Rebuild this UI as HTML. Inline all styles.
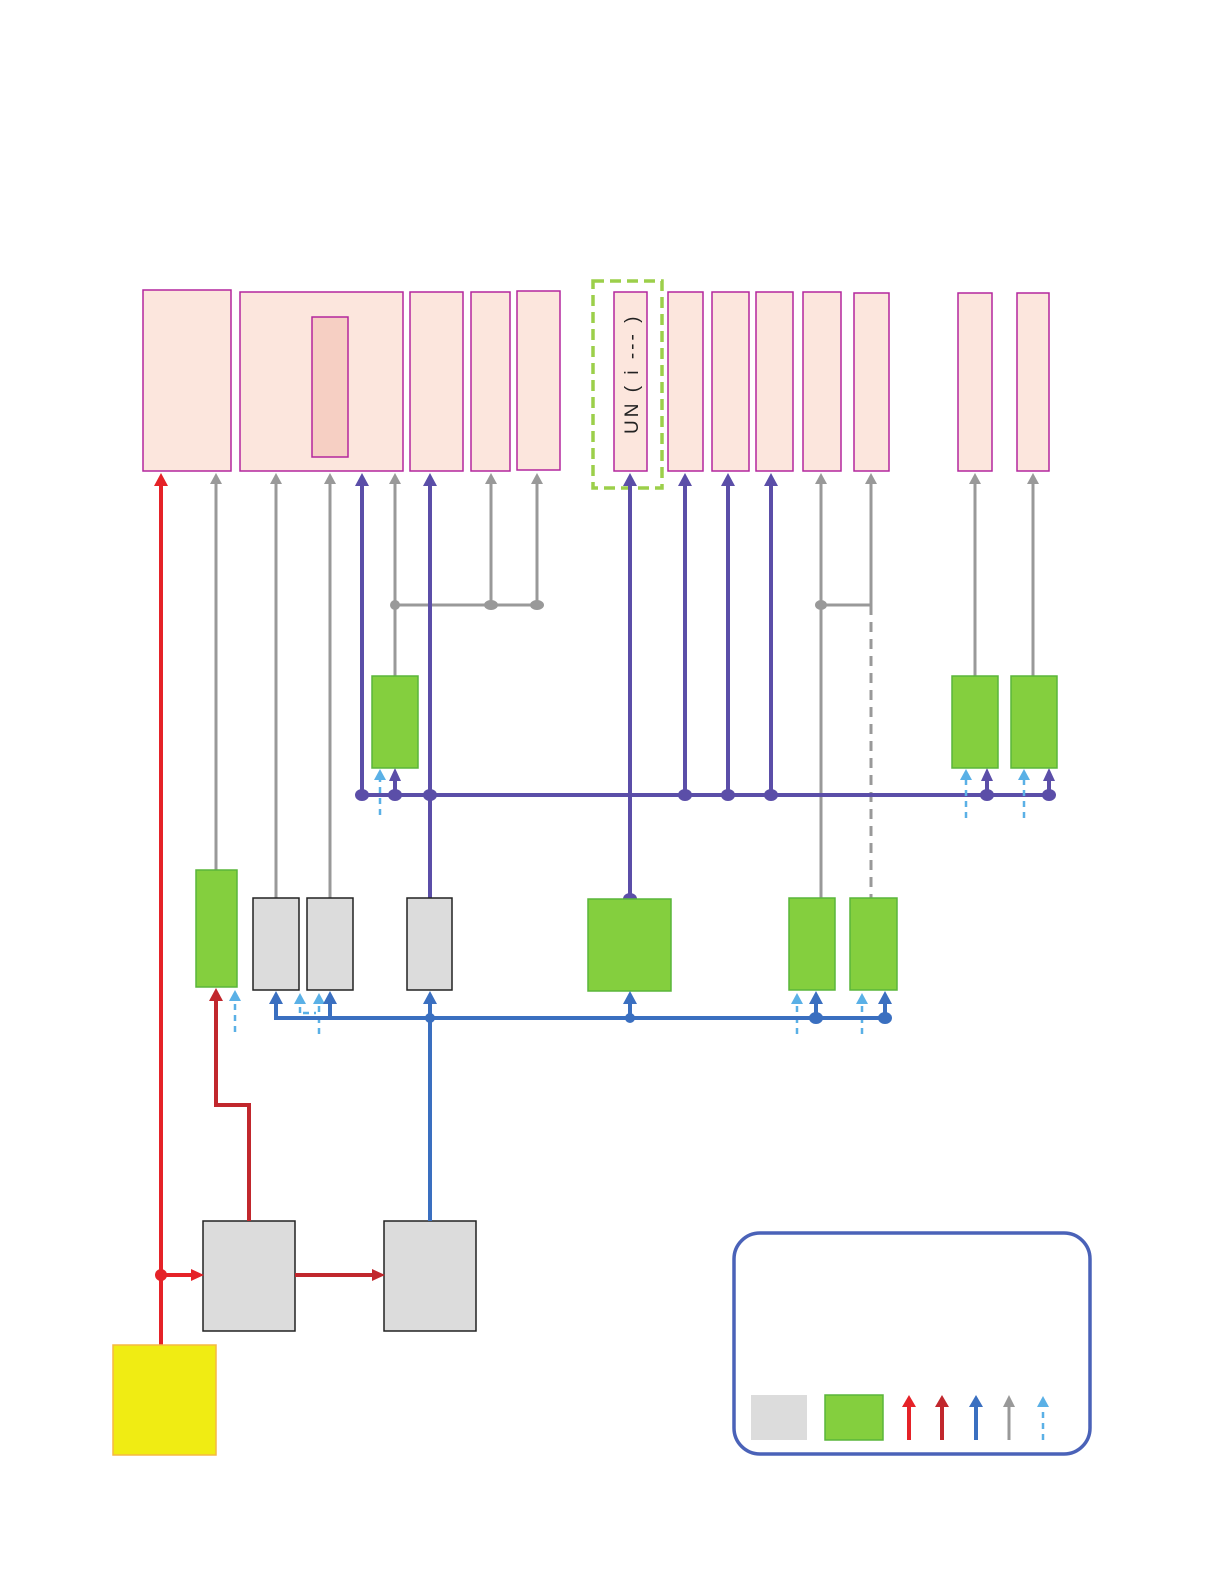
<!DOCTYPE html>
<html><head><meta charset="utf-8"><style>html,body{margin:0;padding:0;background:#fff}svg{display:block}</style></head>
<body>
<svg width="1219" height="1587" viewBox="0 0 1219 1587" xmlns="http://www.w3.org/2000/svg">
<defs>
<marker id="aP" markerWidth="4" markerHeight="4" refX="2" refY="2" orient="auto" markerUnits="strokeWidth"><path d="M0,0L4,2L0,4z" fill="#5b4ea8"/></marker>
</defs>
<g stroke="#b3279d" stroke-width="1.5" fill="#fce6dd">
<rect x="143" y="290" width="88" height="181"/>
<rect x="240" y="292" width="163" height="179"/>
<rect x="312" y="317" width="36" height="140" fill="#f6cfc3"/>
<rect x="410" y="292" width="53" height="179"/>
<rect x="471" y="292" width="39" height="179"/>
<rect x="517" y="291" width="43" height="179"/>
<rect x="614" y="292" width="33" height="179"/>
<rect x="668" y="292" width="35" height="179"/>
<rect x="712" y="292" width="37" height="179"/>
<rect x="756" y="292" width="37" height="179"/>
<rect x="803" y="292" width="38" height="179"/>
<rect x="854" y="293" width="35" height="178"/>
<rect x="958" y="293" width="34" height="178"/>
<rect x="1017" y="293" width="32" height="178"/>
</g>
<rect x="593" y="281" width="69" height="207" fill="none" stroke="#9ccf4a" stroke-width="3.5" stroke-dasharray="11,6"/>
<text transform="translate(638,434) rotate(-90)" font-family="Liberation Sans, sans-serif" font-size="19" fill="#222" letter-spacing="3">UN  ( i ‐‐‐ )</text>

<!-- gray lines -->
<g stroke="#999" stroke-width="3" fill="none">
<line x1="216" y1="870" x2="216" y2="482"/>
<line x1="276" y1="898" x2="276" y2="482"/>
<line x1="330" y1="898" x2="330" y2="482"/>
<line x1="395" y1="676" x2="395" y2="482"/>
<line x1="395" y1="605" x2="537" y2="605"/>
<line x1="491" y1="605" x2="491" y2="482"/>
<line x1="537" y1="605" x2="537" y2="482"/>
<line x1="821" y1="898" x2="821" y2="482"/>
<line x1="821" y1="605" x2="871" y2="605"/>
<line x1="871" y1="605" x2="871" y2="482"/>
<line x1="871" y1="605" x2="871" y2="898" stroke-dasharray="10,7"/>
<line x1="975" y1="676" x2="975" y2="482"/>
<line x1="1033" y1="676" x2="1033" y2="482"/>
</g>
<g fill="#999">
<path d="M210,484L216,473L222,484z"/><path d="M270,484L276,473L282,484z"/><path d="M324,484L330,473L336,484z"/>
<path d="M389,484L395,473L401,484z"/><path d="M485,484L491,473L497,484z"/><path d="M531,484L537,473L543,484z"/>
<path d="M815,484L821,473L827,484z"/><path d="M865,484L871,473L877,484z"/><path d="M969,484L975,473L981,484z"/><path d="M1027,484L1033,473L1039,484z"/>
<circle cx="395" cy="605" r="5"/><ellipse cx="491" cy="605" rx="7" ry="5"/><ellipse cx="537" cy="605" rx="7" ry="5"/><ellipse cx="821" cy="605" rx="6" ry="5"/>
</g>

<!-- purple -->
<g stroke="#5b4ea8" stroke-width="4" fill="none">
<line x1="362" y1="795" x2="362" y2="484"/>
<line x1="430" y1="898" x2="430" y2="484"/>
<line x1="630" y1="899" x2="630" y2="484"/>
<line x1="685" y1="795" x2="685" y2="484"/>
<line x1="728" y1="795" x2="728" y2="484"/>
<line x1="771" y1="795" x2="771" y2="484"/>
<line x1="362" y1="795" x2="1049" y2="795"/>
<line x1="395" y1="795" x2="395" y2="778"/>
<line x1="987" y1="795" x2="987" y2="778"/>
<line x1="1049" y1="795" x2="1049" y2="778"/>
</g>
<g fill="#5b4ea8">
<path d="M355,486L362,473L369,486z"/><path d="M423,486L430,473L437,486z"/><path d="M623,486L630,473L637,486z"/>
<path d="M678,486L685,473L692,486z"/><path d="M721,486L728,473L735,486z"/><path d="M764,486L771,473L778,486z"/>
<path d="M389,781L395,768L401,781z"/><path d="M981,781L987,768L993,781z"/><path d="M1043,781L1049,768L1055,781z"/>
<ellipse cx="362" cy="795" rx="7" ry="6"/><ellipse cx="395" cy="795" rx="7" ry="6"/><ellipse cx="430" cy="795" rx="7" ry="6"/>
<ellipse cx="685" cy="795" rx="7" ry="6"/><ellipse cx="728" cy="795" rx="7" ry="6"/><ellipse cx="771" cy="795" rx="7" ry="6"/>
<ellipse cx="987" cy="795" rx="7" ry="6"/><ellipse cx="1049" cy="795" rx="7" ry="6"/>
<ellipse cx="630" cy="899" rx="7" ry="6"/>
</g>

<!-- green upper -->
<g fill="#84cf3e" stroke="#5ab53a" stroke-width="1.5">
<rect x="372" y="676" width="46" height="92"/>
<rect x="952" y="676" width="46" height="92"/>
<rect x="1011" y="676" width="46" height="92"/>
<rect x="196" y="870" width="41" height="117"/>
<rect x="588" y="899" width="83" height="92"/>
<rect x="789" y="898" width="46" height="92"/>
<rect x="850" y="898" width="47" height="92"/>
</g>
<g fill="#dcdcdc" stroke="#222" stroke-width="1.5">
<rect x="253" y="898" width="46" height="92"/>
<rect x="307" y="898" width="46" height="92"/>
<rect x="407" y="898" width="45" height="92"/>
<rect x="203" y="1221" width="92" height="110"/>
<rect x="384" y="1221" width="92" height="110"/>
</g>

<!-- light blue dashed -->
<g stroke="#5ab0e6" stroke-width="2.5" stroke-dasharray="6,5" fill="none">
<line x1="380" y1="815" x2="380" y2="778"/>
<line x1="966" y1="818" x2="966" y2="778"/>
<line x1="1024" y1="818" x2="1024" y2="778"/>
<line x1="235" y1="1032" x2="235" y2="1000"/>
<line x1="300" y1="1013" x2="300" y2="1003"/>
<line x1="303" y1="1013" x2="316" y2="1013"/>
<line x1="319" y1="1034" x2="319" y2="1003"/>
<line x1="797" y1="1034" x2="797" y2="1003"/>
<line x1="862" y1="1034" x2="862" y2="1003"/>
<line x1="1043" y1="1440" x2="1043" y2="1406"/>
</g>
<g fill="#5ab0e6">
<path d="M374,780L380,769L386,780z"/><path d="M960,780L966,769L972,780z"/><path d="M1018,780L1024,769L1030,780z"/>
<path d="M229,1001L235,990L241,1001z"/><path d="M294,1004L300,993L306,1004z"/><path d="M313,1004L319,993L325,1004z"/>
<path d="M791,1004L797,993L803,1004z"/><path d="M856,1004L862,993L868,1004z"/><path d="M1037,1407L1043,1396L1049,1407z"/>
</g>

<!-- blue -->
<g stroke="#3a6fc0" stroke-width="4" fill="none">
<path d="M276,1003V1018H885V1003"/>
<line x1="330" y1="1018" x2="330" y2="1003"/>
<line x1="430" y1="1221" x2="430" y2="1003"/>
<line x1="630" y1="1018" x2="630" y2="1003"/>
<line x1="816" y1="1018" x2="816" y2="1003"/>
<line x1="976" y1="1440" x2="976" y2="1406"/>
</g>
<g fill="#3a6fc0">
<path d="M269,1004L276,991L283,1004z"/><path d="M323,1004L330,991L337,1004z"/><path d="M423,1004L430,991L437,1004z"/>
<path d="M623,1004L630,991L637,1004z"/><path d="M809,1004L816,991L823,1004z"/><path d="M878,1004L885,991L892,1004z"/>
<path d="M969,1407L976,1395L983,1407z"/>
<circle cx="430" cy="1018" r="5"/><circle cx="630" cy="1018" r="5"/><ellipse cx="816" cy="1018" rx="7" ry="6"/><ellipse cx="885" cy="1018" rx="7" ry="6"/>
</g>

<!-- red -->
<g fill="none" stroke-width="4">
<line x1="161" y1="1345" x2="161" y2="484" stroke="#e52228"/>
<line x1="161" y1="1275" x2="192" y2="1275" stroke="#e52228"/>
<path d="M249,1221V1105H216V1000" stroke="#c1272d"/>
<line x1="295" y1="1275" x2="373" y2="1275" stroke="#c1272d"/>
<line x1="909" y1="1440" x2="909" y2="1406" stroke="#e52228"/>
<line x1="942" y1="1440" x2="942" y2="1406" stroke="#c1272d"/>
</g>
<g>
<path d="M154,486L161,473L168,486z" fill="#e52228"/>
<path d="M191,1269L204,1275L191,1281z" fill="#e52228"/>
<circle cx="161" cy="1275" r="6" fill="#e52228"/>
<path d="M209,1001L216,988L223,1001z" fill="#c1272d"/>
<path d="M372,1269L385,1275L372,1281z" fill="#c1272d"/>
<path d="M902,1407L909,1395L916,1407z" fill="#e52228"/>
<path d="M935,1407L942,1395L949,1407z" fill="#c1272d"/>
</g>
<line x1="1009" y1="1440" x2="1009" y2="1406" stroke="#999" stroke-width="3"/>
<path d="M1003,1407L1009,1395L1015,1407z" fill="#999"/>

<rect x="113" y="1345" width="103" height="110" fill="#f0ec13" stroke="#f5b942" stroke-width="1.5"/>

<rect x="734" y="1233" width="356" height="221" rx="26" fill="none" stroke="#4a62b8" stroke-width="3.5"/>
<rect x="751" y="1395" width="56" height="45" fill="#dcdcdc"/>
<rect x="825" y="1395" width="58" height="45" fill="#84cf3e" stroke="#5ab53a" stroke-width="1.5"/>
</svg>
</body></html>
